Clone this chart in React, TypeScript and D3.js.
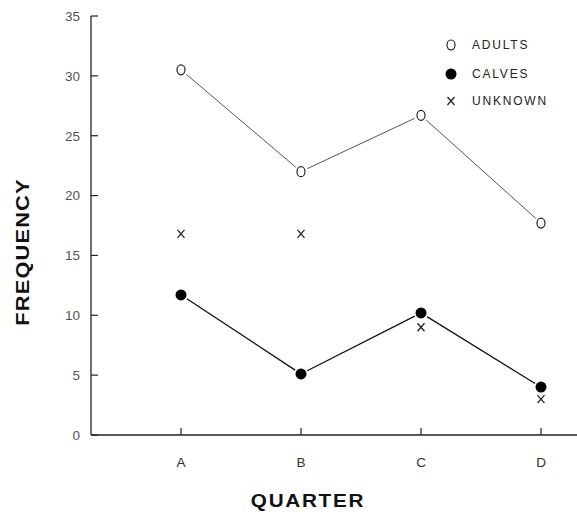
import React, { useEffect, useRef } from "react";
import * as d3 from "d3";

// Data
const quarters = ["A", "B", "C", "D"];
const adults = [30.5, 22.0, 26.7, 17.7];
const calves = [11.7, 5.1, 10.2, 4.0];
const unknown = [16.8, 16.8, 9.0, 3.0];
const yTicks = [0, 5, 10, 15, 20, 25, 30, 35];
const legendLabels = ["ADULTS", "CALVES", "UNKNOWN"];

const W = 577;
const H = 512;

export default function App() {
  const ref = useRef<SVGSVGElement>(null);

  useEffect(() => {
    const svg = d3.select(ref.current);
    svg.selectAll("*").remove();

    // Plot area
    const left = 91,
      top = 16,
      bottom = 435;

    const y = d3.scaleLinear().domain([0, 35]).range([bottom, top]);
    // point scale, first category one step in from the axis
    const x = d3.scalePoint().domain(quarters).range([left, left + 540]).padding(0.75);

    const g = svg.append("g");

    // Axes lines
    g.append("line")
      .attr("x1", left).attr("x2", left)
      .attr("y1", top).attr("y2", bottom)
      .attr("stroke", "#222").attr("stroke-width", 1.3);
    g.append("line")
      .attr("x1", left).attr("x2", W)
      .attr("y1", bottom).attr("y2", bottom)
      .attr("stroke", "#222").attr("stroke-width", 1.3);

    // y ticks (pointing inward)
    g.selectAll(".yt")
      .data(yTicks)
      .join("line")
      .attr("x1", left).attr("x2", left + 7)
      .attr("y1", (d) => y(d)).attr("y2", (d) => y(d))
      .attr("stroke", "#222").attr("stroke-width", 1.2);
    g.selectAll(".yl")
      .data(yTicks)
      .join("text")
      .attr("x", left - 11)
      .attr("y", (d) => y(d))
      .attr("dy", "0.36em")
      .attr("text-anchor", "end")
      .attr("font-family", "Liberation Sans, Arial, sans-serif")
      .attr("font-size", 13.5)
      .attr("fill", "#555")
      .text((d) => d);

    // x ticks (pointing up)
    g.selectAll(".xt")
      .data(quarters)
      .join("line")
      .attr("x1", (d) => x(d)!).attr("x2", (d) => x(d)!)
      .attr("y1", bottom).attr("y2", bottom - 7)
      .attr("stroke", "#222").attr("stroke-width", 1.2);
    g.selectAll(".xl")
      .data(quarters)
      .join("text")
      .attr("x", (d) => x(d)!)
      .attr("y", 467)
      .attr("text-anchor", "middle")
      .attr("font-family", "Liberation Sans, Arial, sans-serif")
      .attr("font-size", 13.5)
      .attr("fill", "#333")
      .text((d) => d);

    // Axis titles (wide, slightly stretched lettering)
    g.append("text")
      .attr("transform", "translate(308,507) scale(1.15,1)")
      .attr("text-anchor", "middle")
      .attr("font-family", "Liberation Sans, Arial, sans-serif")
      .attr("font-weight", "bold")
      .attr("font-size", 18)
      .attr("letter-spacing", 1.5)
      .attr("fill", "#111")
      .text("QUARTER");
    g.append("text")
      .attr("transform", "translate(29,252) rotate(-90) scale(1.15,1)")
      .attr("text-anchor", "middle")
      .attr("font-family", "Liberation Sans, Arial, sans-serif")
      .attr("font-weight", "bold")
      .attr("font-size", 19)
      .attr("letter-spacing", 1)
      .attr("fill", "#111")
      .text("FREQUENCY");

    // Connecting lines with a small gap at each marker
    const gap = 7;
    function segments(vals: number[]) {
      const segs: number[][] = [];
      for (let i = 0; i < vals.length - 1; i++) {
        const x1 = x(quarters[i])!, y1 = y(vals[i]);
        const x2 = x(quarters[i + 1])!, y2 = y(vals[i + 1]);
        const len = Math.hypot(x2 - x1, y2 - y1);
        const ux = (x2 - x1) / len, uy = (y2 - y1) / len;
        segs.push([x1 + ux * gap, y1 + uy * gap, x2 - ux * gap, y2 - uy * gap]);
      }
      return segs;
    }

    g.selectAll(".adl")
      .data(segments(adults))
      .join("line")
      .attr("x1", (d) => d[0]).attr("y1", (d) => d[1])
      .attr("x2", (d) => d[2]).attr("y2", (d) => d[3])
      .attr("stroke", "#555").attr("stroke-width", 1);
    g.selectAll(".cal")
      .data(segments(calves))
      .join("line")
      .attr("x1", (d) => d[0]).attr("y1", (d) => d[1])
      .attr("x2", (d) => d[2]).attr("y2", (d) => d[3])
      .attr("stroke", "#111").attr("stroke-width", 1.3);

    // Markers
    function openO(sel: any, cx: number, cy: number) {
      sel.append("ellipse")
        .attr("cx", cx).attr("cy", cy)
        .attr("rx", 4).attr("ry", 5)
        .attr("fill", "none").attr("stroke", "#222").attr("stroke-width", 1.2);
    }
    function dot(sel: any, cx: number, cy: number) {
      sel.append("circle")
        .attr("cx", cx).attr("cy", cy).attr("r", 5.5)
        .attr("fill", "#000");
    }
    function cross(sel: any, cx: number, cy: number) {
      sel.append("path")
        .attr("d", `M${cx - 3.5},${cy - 4}L${cx + 3.5},${cy + 4}M${cx + 3.5},${cy - 4}L${cx - 3.5},${cy + 4}`)
        .attr("stroke", "#222").attr("stroke-width", 1.3).attr("fill", "none");
    }

    quarters.forEach((q, i) => {
      openO(g, x(q)!, y(adults[i]));
      dot(g, x(q)!, y(calves[i]));
      cross(g, x(q)!, y(unknown[i]));
    });

    // Legend
    const legY = [45, 74, 101];
    const drawers = [openO, dot, cross];
    legendLabels.forEach((lab, i) => {
      drawers[i](g, 451, legY[i]);
      g.append("text")
        .attr("x", 472).attr("y", legY[i])
        .attr("dy", "0.36em")
        .attr("font-family", "Liberation Sans, Arial, sans-serif")
        .attr("font-size", 12)
        .attr("letter-spacing", 1.8)
        .attr("fill", "#222")
        .text(lab);
    });
  }, []);

  return (
    <svg
      ref={ref}
      width={W}
      height={H}
      style={{ position: "absolute", left: 0, top: 0, background: "#fff" }}
    ></svg>
  );
}
